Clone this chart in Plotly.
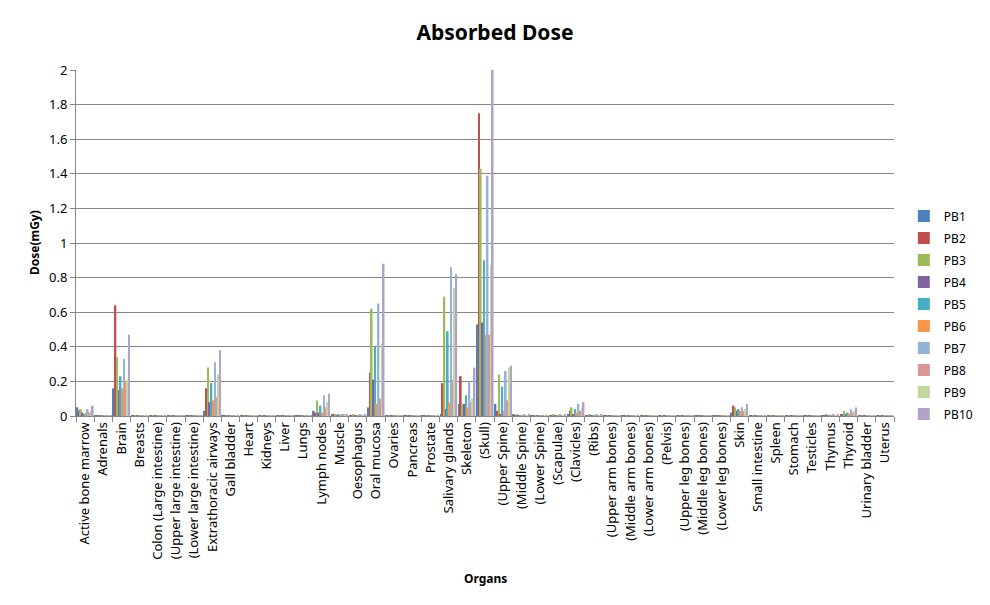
import plotly.graph_objects as go

organs = ["Active bone marrow", "Adrenals", "Brain", "Breasts", "Colon (Large intestine)",
          "(Upper large intestine)", "(Lower large intestine)", "Extrathoracic airways",
          "Gall bladder", "Heart", "Kidneys", "Liver", "Lungs", "Lymph nodes", "Muscle",
          "Oesophagus", "Oral mucosa", "Ovaries", "Pancreas", "Prostate", "Salivary glands",
          "Skeleton", "(Skull)", "(Upper Spine)", "(Middle Spine)", "(Lower Spine)",
          "(Scapulae)", "(Clavicles)", "(Ribs)", "(Upper arm bones)", "(Middle arm bones)",
          "(Lower arm bones)", "(Pelvis)", "(Upper leg bones)", "(Middle leg bones)",
          "(Lower leg bones)", "Skin", "Small intestine", "Spleen", "Stomach", "Testicles",
          "Thymus", "Thyroid", "Urinary bladder", "Uterus"]

# values per series, in organ order
PB1 = [0.05, 0.004, 0.16, 0.004, 0.002, 0.002, 0.002, 0.03, 0.003, 0.004, 0.003, 0.003, 0.003, 0.03, 0.008,
       0.005, 0.05, 0.002, 0.003, 0.002, 0.01, 0.07, 0.53, 0.07, 0.006, 0.004, 0.005, 0.01, 0.005, 0.004,
       0.004, 0.003, 0.003, 0.001, 0.001, 0.001, 0.02, 0.003, 0.003, 0.003, 0.001, 0.005, 0.01, 0.001, 0.001]
PB2 = [0.03, 0.003, 0.64, 0.003, 0.001, 0.001, 0.001, 0.16, 0.002, 0.003, 0.002, 0.002, 0.003, 0.02, 0.006,
       0.004, 0.25, 0.001, 0.002, 0.001, 0.19, 0.23, 1.75, 0.03, 0.004, 0.003, 0.004, 0.03, 0.004, 0.003,
       0.003, 0.002, 0.002, 0.001, 0.001, 0.001, 0.06, 0.002, 0.002, 0.002, 0.001, 0.004, 0.01, 0.001, 0.001]
PB3 = [0.04, 0.004, 0.34, 0.004, 0.002, 0.002, 0.002, 0.28, 0.003, 0.004, 0.003, 0.003, 0.004, 0.09, 0.01,
       0.006, 0.62, 0.002, 0.003, 0.002, 0.69, 0.07, 1.43, 0.24, 0.006, 0.004, 0.006, 0.05, 0.006, 0.004,
       0.004, 0.003, 0.003, 0.001, 0.001, 0.001, 0.05, 0.003, 0.003, 0.003, 0.001, 0.006, 0.03, 0.001, 0.001]
PB4 = [0.02, 0.002, 0.15, 0.002, 0.001, 0.001, 0.001, 0.08, 0.002, 0.002, 0.002, 0.002, 0.002, 0.02, 0.005,
       0.003, 0.21, 0.001, 0.002, 0.001, 0.04, 0.07, 0.54, 0.01, 0.003, 0.002, 0.003, 0.01, 0.003, 0.002,
       0.002, 0.002, 0.002, 0.001, 0.001, 0.001, 0.03, 0.002, 0.002, 0.002, 0.001, 0.003, 0.01, 0.001, 0.001]
PB5 = [0.01, 0.003, 0.23, 0.003, 0.001, 0.001, 0.001, 0.19, 0.002, 0.003, 0.002, 0.002, 0.003, 0.06, 0.007,
       0.004, 0.40, 0.001, 0.002, 0.001, 0.49, 0.12, 0.90, 0.17, 0.005, 0.003, 0.005, 0.04, 0.005, 0.003,
       0.003, 0.002, 0.002, 0.001, 0.001, 0.001, 0.04, 0.002, 0.002, 0.002, 0.001, 0.005, 0.02, 0.001, 0.001]
PB6 = [0.02, 0.002, 0.16, 0.002, 0.001, 0.001, 0.001, 0.09, 0.002, 0.002, 0.002, 0.002, 0.002, 0.02, 0.005,
       0.003, 0.07, 0.001, 0.002, 0.001, 0.08, 0.05, 0.47, 0.03, 0.003, 0.002, 0.003, 0.02, 0.003, 0.002,
       0.002, 0.002, 0.002, 0.001, 0.001, 0.001, 0.03, 0.002, 0.002, 0.002, 0.001, 0.003, 0.01, 0.001, 0.001]
PB7 = [0.04, 0.004, 0.33, 0.004, 0.002, 0.002, 0.002, 0.31, 0.003, 0.004, 0.003, 0.003, 0.004, 0.12, 0.01,
       0.006, 0.65, 0.002, 0.003, 0.002, 0.86, 0.20, 1.39, 0.26, 0.006, 0.004, 0.006, 0.07, 0.006, 0.004,
       0.004, 0.003, 0.003, 0.001, 0.001, 0.001, 0.05, 0.003, 0.003, 0.003, 0.001, 0.006, 0.04, 0.001, 0.001]
PB8 = [0.02, 0.003, 0.20, 0.003, 0.001, 0.001, 0.001, 0.11, 0.002, 0.003, 0.002, 0.002, 0.003, 0.05, 0.006,
       0.004, 0.10, 0.001, 0.002, 0.001, 0.21, 0.08, 0.47, 0.09, 0.004, 0.003, 0.004, 0.03, 0.004, 0.003,
       0.003, 0.002, 0.002, 0.001, 0.001, 0.001, 0.03, 0.002, 0.002, 0.002, 0.001, 0.004, 0.02, 0.001, 0.001]
PB9 = [0.03, 0.004, 0.21, 0.004, 0.002, 0.002, 0.002, 0.24, 0.003, 0.003, 0.003, 0.003, 0.003, 0.08, 0.008,
       0.005, 0.42, 0.002, 0.003, 0.002, 0.74, 0.10, 0.87, 0.28, 0.005, 0.004, 0.005, 0.05, 0.005, 0.004,
       0.004, 0.003, 0.003, 0.001, 0.001, 0.001, 0.04, 0.003, 0.003, 0.003, 0.001, 0.005, 0.03, 0.001, 0.001]
PB10 = [0.06, 0.005, 0.47, 0.005, 0.002, 0.002, 0.002, 0.38, 0.004, 0.005, 0.004, 0.004, 0.004, 0.13, 0.012,
        0.007, 0.88, 0.002, 0.004, 0.002, 0.82, 0.28, 2.00, 0.29, 0.007, 0.005, 0.007, 0.08, 0.007, 0.005,
        0.005, 0.004, 0.004, 0.001, 0.001, 0.001, 0.07, 0.004, 0.004, 0.004, 0.001, 0.007, 0.05, 0.001, 0.001]

series_names = ["PB1", "PB2", "PB3", "PB4", "PB5", "PB6", "PB7", "PB8", "PB9", "PB10"]
series_values = [PB1, PB2, PB3, PB4, PB5, PB6, PB7, PB8, PB9, PB10]
colors = ["#4F81BD", "#C0504D", "#9BBB59", "#8064A2", "#4BACC6",
          "#F79646", "#95B3D7", "#D99694", "#C3D69B", "#B3A2C7"]
y_ticks = [0, 0.2, 0.4, 0.6, 0.8, 1, 1.2, 1.4, 1.6, 1.8, 2]
y_tick_text = ["0", "0.2", "0.4", "0.6", "0.8", "1", "1.2", "1.4", "1.6", "1.8", "2"]

FONT = "Noto Sans, DejaVu Sans, sans-serif"

fig = go.Figure()
for name, vals, col in zip(series_names, series_values, colors):
    fig.add_trace(go.Bar(x=organs, y=vals, name=name, marker=dict(color=col, line=dict(width=0)),
                         legendgroup=name))

fig.update_layout(
    width=990, height=605,
    margin=dict(l=76, r=75, t=70, b=189),
    paper_bgcolor="white", plot_bgcolor="white",
    barmode="group", bargap=0.06, bargroupgap=0,
    font=dict(family=FONT, size=12, color="#000000"),
    title=dict(text="<b>Absorbed Dose</b>", x=0.5, xanchor="center", y=1 - 33 / 605,
               yanchor="middle", yref="container", font=dict(size=21, color="#000000")),
    legend=dict(x=1.012, xanchor="left", y=0.292, yanchor="middle", tracegroupgap=3,
                font=dict(size=12), itemwidth=30, bgcolor="rgba(0,0,0,0)"),
    showlegend=True,
)
fig.update_xaxes(
    type="category", tickangle=-90, tickfont=dict(size=13),
    showline=True, linecolor="#868686", linewidth=1,
    ticks="outside", ticklen=5, tickcolor="#868686", tickson="boundaries",
    showgrid=False,
)
fig.update_yaxes(
    range=[0, 2], tickvals=y_ticks, ticktext=y_tick_text, tickfont=dict(size=13),
    showline=True, linecolor="#868686", linewidth=1,
    ticks="outside", ticklen=5, tickcolor="#868686",
    showgrid=True, gridcolor="#868686", gridwidth=1, zeroline=False,
)
fig.add_annotation(text="<b>Organs</b>", xref="paper", yref="paper", x=0.5,
                   y=-(578 - 416) / 346, xanchor="center", yanchor="middle",
                   showarrow=False, font=dict(size=12))
fig.add_annotation(text="<b>Dose(mGy)</b>", xref="paper", yref="paper", x=-(76 - 33) / 839,
                   y=(416 - 243) / 346, xanchor="center", yanchor="middle", textangle=-90,
                   showarrow=False, font=dict(size=12))

fig.write_html("out.html")
